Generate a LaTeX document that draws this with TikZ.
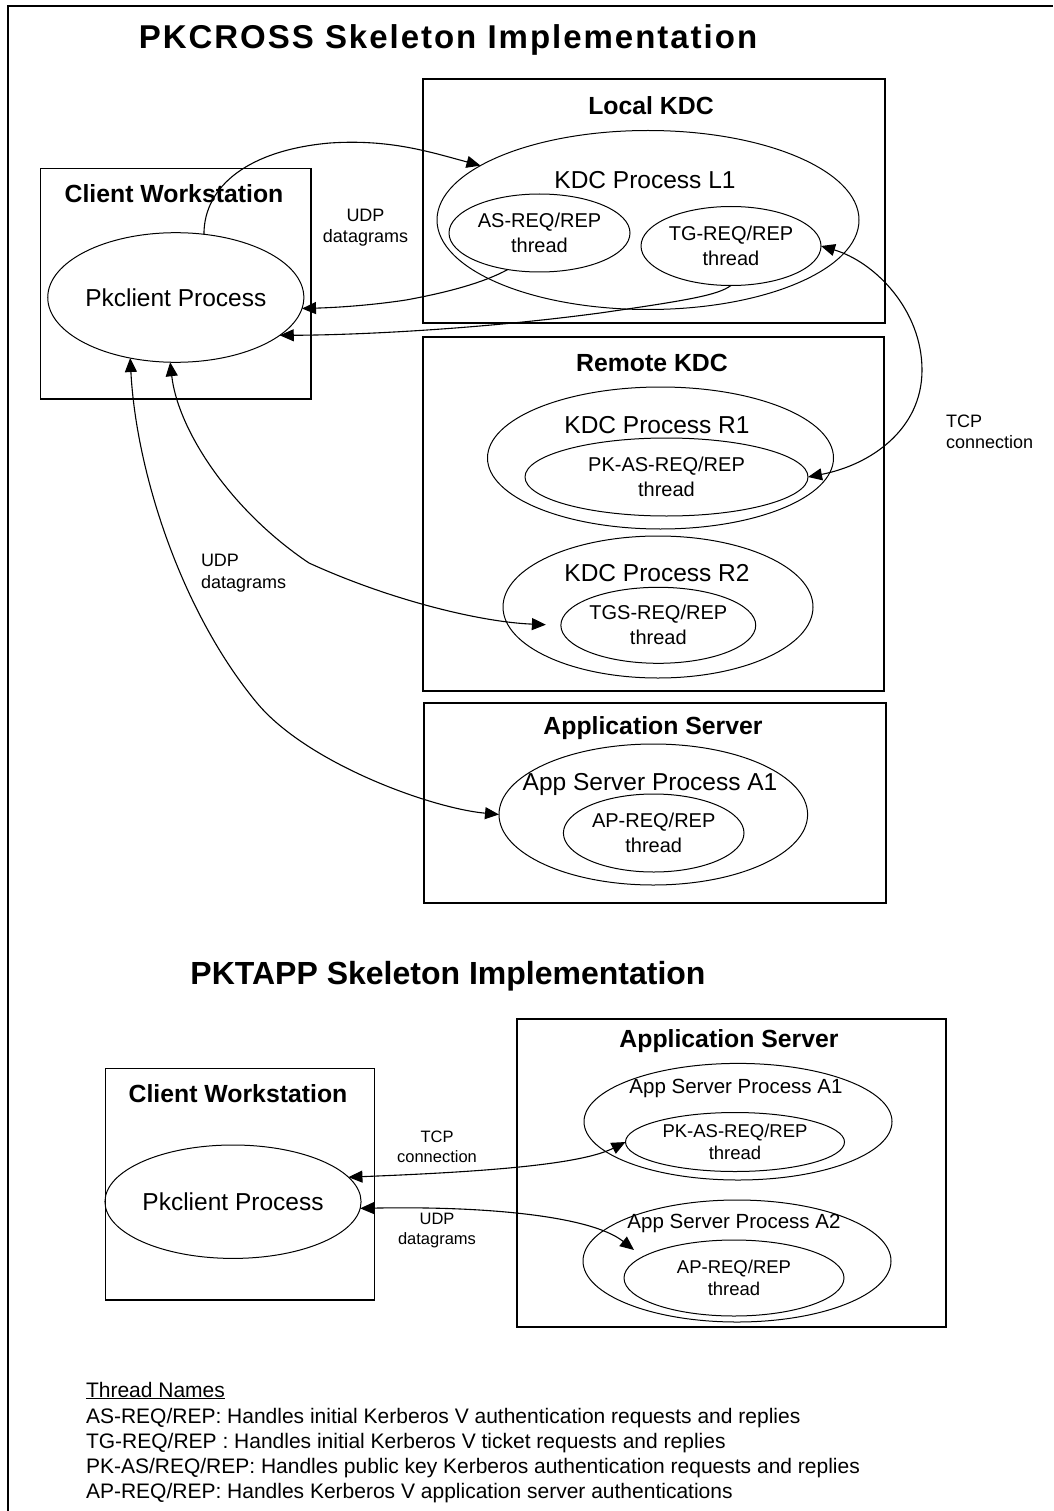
\documentclass[tikz,border=0pt]{standalone}
\usepackage{fontspec}
\setmainfont{Liberation Sans}
\usetikzlibrary{shapes.geometric,arrows.meta}

\begin{document}
\begin{tikzpicture}[x=1pt,y=-1pt,
  every node/.style={inner sep=0pt,outer sep=0pt},
  hostbox/.style={draw,rectangle,line width=1.3pt},
  proc/.style={draw,ellipse,line width=1pt},
  thr/.style={draw,ellipse,line width=1pt,align=center,font=\fontsize{20}{25}\selectfont},
  thrsmall/.style={thr,font=\fontsize{18.5}{22.5}\selectfont},
  hostlabel/.style={font=\fontsize{24.8}{28}\selectfont\bfseries},
  proclabel/.style={font=\fontsize{24.5}{29}\selectfont},
  proclabelsmall/.style={font=\fontsize{20.5}{24}\selectfont},
  titletext/.style={font=\fontsize{32}{38}\selectfont\bfseries},
  linklabel/.style={font=\fontsize{18}{21.6}\selectfont},
  linklabelsmall/.style={font=\fontsize{16.5}{20.6}\selectfont,align=center},
  legendtext/.style={anchor=base west,font=\fontsize{21}{24}\selectfont},
  oneway/.style={line width=1.1pt,-{Triangle[length=14pt,width=12pt]}},
  twoway/.style={line width=1.1pt,{Triangle[length=14pt,width=12pt]}-{Triangle[length=14pt,width=12pt]}}
]
\useasboundingbox (0,0) rectangle (1053,1511);

% page frame (top and left edges)
\draw[line width=1.8pt] (8,1511) -- (8,6) -- (1053,6);

% ---------- PKCROSS ----------
\node[titletext,font=\fontsize{33}{38}\selectfont\bfseries\addfontfeatures{LetterSpace=6}] (t1) at (448,40) {PKCROSS Skeleton Implementation};

% client workstation
\node[hostbox,minimum width=270.4,minimum height=230.7] (cw1) at (175.8,283.7) {};
\node[hostlabel] (cw1l) at (174,194) {Client Workstation};
\node[proc,minimum width=231.2,minimum height=129.6,font=\fontsize{24.5}{29}\selectfont] (pk1) at (175.8,297.5) {Pkclient Process};

% local KDC
\node[hostbox,minimum width=462,minimum height=244] (lkdc) at (654,201) {};
\node[hostlabel] (lkdcl) at (651,106) {Local KDC};
\node[proc,minimum width=422,minimum height=179] (L1) at (648,220) {};
\node[proclabel] (L1l) at (645,180) {KDC Process L1};
\node[thr,minimum width=181,minimum height=78] (as) at (539.5,233) {AS-REQ/REP\\thread};
\node[thr,minimum width=180,minimum height=79] (tg) at (731,246) {TG-REQ/REP\\thread};

% remote KDC
\node[hostbox,minimum width=461,minimum height=354] (rkdc) at (653.5,514) {};
\node[hostlabel] (rkdcl) at (652,363) {Remote KDC};
\node[proc,minimum width=346,minimum height=142] (R1) at (660.5,458) {};
\node[proclabel] (R1l) at (657,425) {KDC Process R1};
\node[thr,minimum width=283,minimum height=78] (pkas) at (666.5,477) {PK-AS-REQ/REP\\thread};
\node[proc,minimum width=310,minimum height=142] (R2) at (658,607) {};
\node[proclabel] (R2l) at (657,573) {KDC Process R2};
\node[thr,minimum width=181,minimum height=76] (tgs) at (658.3,625.3) {TGS-REQ/REP\\thread};

% application server
\node[hostbox,minimum width=462,minimum height=200] (apps) at (655,803) {};
\node[hostlabel] (appsl) at (653,728) {Application Server};
\node[proc,minimum width=308.6,minimum height=141] (A1) at (653.3,814.5) {};
\node[proclabel] (A1l) at (650,784) {App Server Process A1};
\node[thr,minimum width=180.6,minimum height=78] (ap) at (653.7,833) {AP-REQ/REP\\thread};

% connector labels
\node[linklabel,align=center] (udp1) at (365.5,227.5) {UDP\\datagrams};
\node[linklabel,align=left,anchor=west] (udp2) at (201,573) {UDP\\datagrams};
\node[linklabel,align=left,anchor=west] (tcp1) at (946,432) {TCP\\connection};

% connectors
\draw[oneway] (pk1.66) .. controls (204,185) and (250,150) .. (330,143)
  .. controls (390,139) and (430,152) .. (L1.162);
\draw[oneway] (as.229) .. controls (485,282) and (450,292) .. (406,300)
  .. controls (360,307) and (320,308) .. (pk1.-5);
\draw[oneway] (tg.south) .. controls (718,295) and (690,300) .. (600,313)
  .. controls (480,329) and (360,335) .. (pk1.-20);
\draw[twoway] (tg.east) .. controls (875,262) and (922,310) .. (922,370)
  .. controls (922,430) and (870,465) .. (pkas.east);
\draw[twoway,shorten >=15pt] (pk1.-95) .. controls (178,430) and (230,510) .. (309,563)
  .. controls (390,600) and (480,622) .. (tgs.west);
\draw[twoway] (pk1.-127) .. controls (136,470) and (180,610) .. (257,703)
  .. controls (307,763) and (430,808) .. (A1.west);

% ---------- PKTAPP ----------
\node[titletext] (t2) at (448,976) {PKTAPP Skeleton Implementation};

\node[hostbox,minimum width=269.2,minimum height=231.7] (cw2) at (239.9,1184.2) {};
\node[hostlabel] (cw2l) at (238,1094) {Client Workstation};
\node[proc,minimum width=230,minimum height=113.4,font=\fontsize{24.5}{29}\selectfont] (pk2) at (233,1201.7) {Pkclient Process};

\node[hostbox,minimum width=429,minimum height=308] (apps2) at (731.5,1173) {};
\node[hostlabel] (apps2l) at (729,1041) {Application Server};
\node[proc,minimum width=308,minimum height=116.6] (A1b) at (738,1121.7) {};
\node[proclabelsmall] (A1bl) at (736,1088) {App Server Process A1};
\node[thrsmall,minimum width=219,minimum height=59] (pkas2) at (735,1142) {PK-AS-REQ/REP\\thread};
\node[proc,minimum width=308,minimum height=122] (A2b) at (737,1261) {};
\node[proclabelsmall] (A2bl) at (734,1223) {App Server Process A2};
\node[thrsmall,minimum width=220,minimum height=76] (ap2) at (734,1278) {AP-REQ/REP\\thread};

\node[linklabelsmall] (tcp2) at (437,1147) {TCP\\connection};
\node[linklabelsmall] (udp3) at (437,1230.4) {UDP\\datagrams};

\coordinate (udptip) at (634,1250);
\draw[twoway] (pk2.12) .. controls (480,1172) and (580,1165) .. (pkas2.west);
\draw[twoway] (pk2.-3) .. controls (480,1206) and (590,1215) .. (udptip);

% ---------- legend ----------
\node[legendtext] (lg0) at (86,1397) {\underline{Thread Names}};
\node[legendtext] (lg1) at (86,1423) {AS-REQ/REP: Handles initial Kerberos V authentication requests and replies};
\node[legendtext] (lg2) at (86,1448) {TG-REQ/REP : Handles initial Kerberos V ticket requests and replies};
\node[legendtext] (lg3) at (86,1473) {PK-AS/REQ/REP: Handles public key Kerberos authentication requests and replies};
\node[legendtext] (lg4) at (86,1498) {AP-REQ/REP: Handles Kerberos V application server authentications};
\end{tikzpicture}
\end{document}
